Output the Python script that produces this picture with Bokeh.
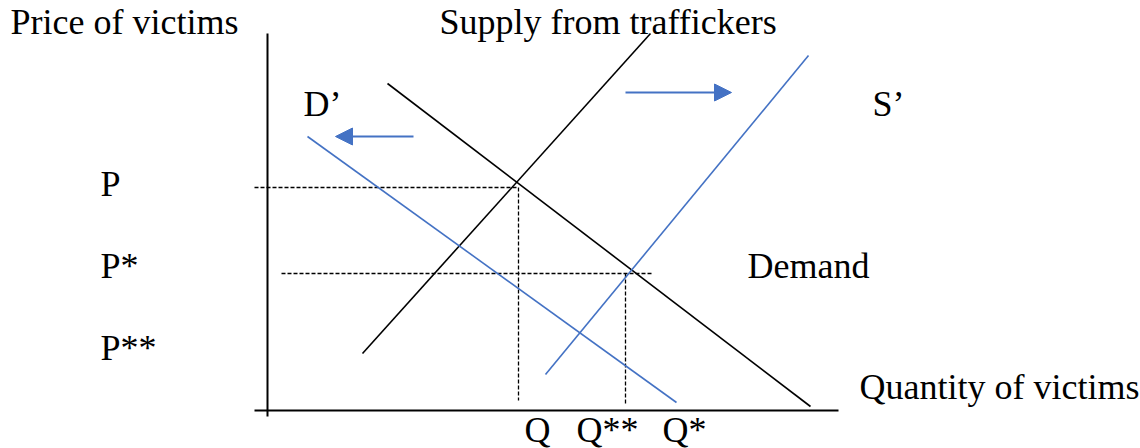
from bokeh.plotting import figure
from bokeh.models import Range1d, Arrow, NormalHead, ColumnDataSource
from bokeh.core.properties import value
from bokeh.embed import file_html
from bokeh.resources import INLINE

# ---- data (quantity q, price p in diagram units; origin at the axes' corner) ----
supply_q = [95, 383]
supply_p = [57, 377]
demand_q = [120, 543]
demand_p = [327, 4]
demand2_q = [40, 409]     # D'
demand2_p = [274, 8]
supply2_q = [278, 541]    # S'
supply2_p = [36, 355]

P, P_star = 223, 137
Q, Q_2star = 251, 358

xaxis_q = [-13, 571]
yaxis_p = [-6, 377]

label_text = ["Price of victims", "Supply from traffickers", "D\u2019", "S\u2019",
              "P", "P*", "P**", "Demand", "Quantity of victims"]
label_q = [-257, 172, 36, 605, -167, -167, -167, 480, 592]
label_p = [389, 389, 307, 307, 227, 145, 63, 145, 24]

qtick_text = ["Q", "Q**", "Q*"]
qtick_q = [270, 340, 417]
qtick_p = [-19, -19, -19]

BLUE = "#4472C4"
FONT = value("Liberation Serif")

p = figure(width=1140, height=448, output_backend="svg", toolbar_location=None,
           x_range=Range1d(-267, 873), y_range=Range1d(-38, 410),
           min_border=0, outline_line_color=None)
p.axis.visible = False
p.grid.visible = False
p.background_fill_color = "white"

# axes
p.line(xaxis_q, [0, 0], line_color="black", line_width=2)
p.line([0, 0], yaxis_p, line_color="black", line_width=2)

# guide dashes
p.line([xaxis_q[0], Q], [P, P], line_color="black", line_width=1.3, line_dash="4 2")
p.line([Q, Q], [P, 10], line_color="black", line_width=1.3, line_dash="4 2")
p.line([14, 385], [P_star, P_star], line_color="black", line_width=1.3, line_dash="4 2")
p.line([Q_2star, Q_2star], [P_star, 5], line_color="black", line_width=1.3, line_dash="4 2")

# curves
p.line(supply_q, supply_p, line_color="black", line_width=1.6)
p.line(demand_q, demand_p, line_color="black", line_width=1.6)
p.line(demand2_q, demand2_p, line_color=BLUE, line_width=1.6)
p.line(supply2_q, supply2_p, line_color=BLUE, line_width=1.6)

# shift arrows
p.add_layout(Arrow(x_start=358, y_start=318, x_end=464, y_end=318,
                   line_color=BLUE, line_width=1.8,
                   end=NormalHead(size=17, fill_color=BLUE, line_color=BLUE)))
p.add_layout(Arrow(x_start=146, y_start=274, x_end=68, y_end=274,
                   line_color=BLUE, line_width=1.8,
                   end=NormalHead(size=17, fill_color=BLUE, line_color=BLUE)))

# labels
src = ColumnDataSource(dict(x=label_q, y=label_p, t=label_text))
p.text(x="x", y="y", text="t", source=src, text_font=FONT, text_font_size="36px",
       text_color="black", text_align="left", text_baseline="alphabetic")

src2 = ColumnDataSource(dict(x=qtick_q, y=qtick_p, t=qtick_text))
p.text(x="x", y="y", text="t", source=src2, text_font=FONT, text_font_size="36px",
       text_color="black", text_align="center", text_baseline="alphabetic")

open("out.html", "w").write(file_html(p, INLINE))
